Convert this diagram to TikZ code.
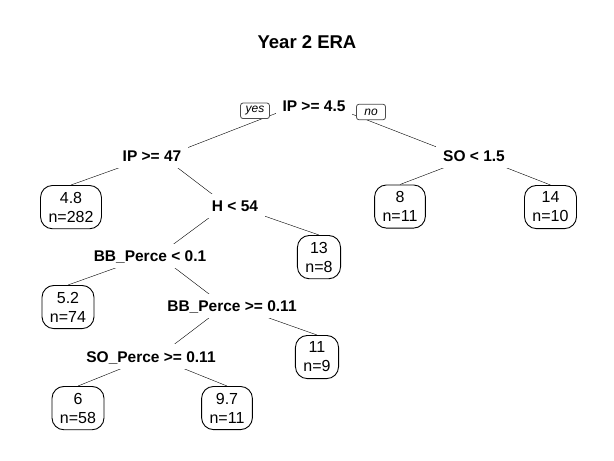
\documentclass[tikz,border=0pt]{standalone}
\usepackage{fontspec}
\setmainfont{Liberation Sans}
\usetikzlibrary{calc,backgrounds}

\tikzset{
  split/.style={fill=white, anchor=base, inner xsep=7pt, inner ysep=6.5pt,
    text height=11.5pt, text depth=0pt, font=\fontsize{15.5}{18}\selectfont\bfseries},
  leaf/.style={draw, fill=white, anchor=north, rounded corners=12pt, align=center,
    inner xsep=8pt, inner ysep=6.5pt, line width=0.9pt, font=\fontsize{16}{19}\selectfont},
  yesno/.style={draw=black!70, fill=white, rounded corners=2.5pt, minimum width=29pt,
    minimum height=15.5pt, inner sep=1pt, line width=0.8pt, font=\fontsize{12}{14}\selectfont\itshape},
}

% branch with short shoulder under the parent label
\newcommand{\branch}[3]{%
  \draw let \p1=(#2), \p2=(#3), \p3=(#1.base) in
    (\p1) -- ({0.6*\x1+0.4*\x2},\y3) -- ({0.4*\x1+0.6*\x2},\y3) -- (\p2);}

\begin{document}
\begin{tikzpicture}[x=1pt, y=-1pt]
  \useasboundingbox (0,0) rectangle (614,461);

  \node[anchor=base, font=\fontsize{18.5}{22}\selectfont\bfseries] (title) at (307,48.3) {Year 2 ERA};

  % splits
  \node[split] (root)  at (314,111.5) {IP >= 4.5};
  \node[split] (ip47)  at (152,161.5) {IP >= 47};
  \node[split] (so15)  at (474,161.5) {SO < 1.5};
  \node[split] (h54)   at (235,211.5) {H < 54};
  \node[split] (bb01)  at (150,261.5) {BB\_Perce < 0.1};
  \node[split] (bb011) at (232,311.5) {BB\_Perce >= 0.11};
  \node[split] (sop)   at (151,362)   {SO\_Perce >= 0.11};

  % leaves
  \node[leaf] (l48) at (71,185)    {4.8\\n=282};
  \node[leaf] (l8)  at (400,184.5) {8\\n=11};
  \node[leaf] (l14) at (550.5,185) {14\\n=10};
  \node[leaf] (l13) at (319,235)   {13\\n=8};
  \node[leaf] (l52) at (68,285)    {5.2\\n=74};
  \node[leaf] (l11) at (317,335)   {11\\n=9};
  \node[leaf] (l6)  at (78,386)    {6\\n=58};
  \node[leaf] (l97) at (227,386)   {9.7\\n=11};

  \node[yesno] (yes) at (255,110.8) {yes};
  \node[yesno] (no)  at (371,112)   {no};

  \begin{scope}[on background layer, line width=0.9pt]
    \fill[white] (0,0) rectangle (614,461);
    \branch{root}{ip47.base}{so15.base}
    \branch{ip47}{l48.north}{h54.base}
    \branch{so15}{l8.north}{l14.north}
    \branch{h54}{bb01.base}{l13.north}
    \branch{bb01}{l52.north}{bb011.base}
    \branch{bb011}{sop.base}{l11.north}
    \branch{sop}{l6.north}{l97.north}
  \end{scope}
\end{tikzpicture}
\end{document}
